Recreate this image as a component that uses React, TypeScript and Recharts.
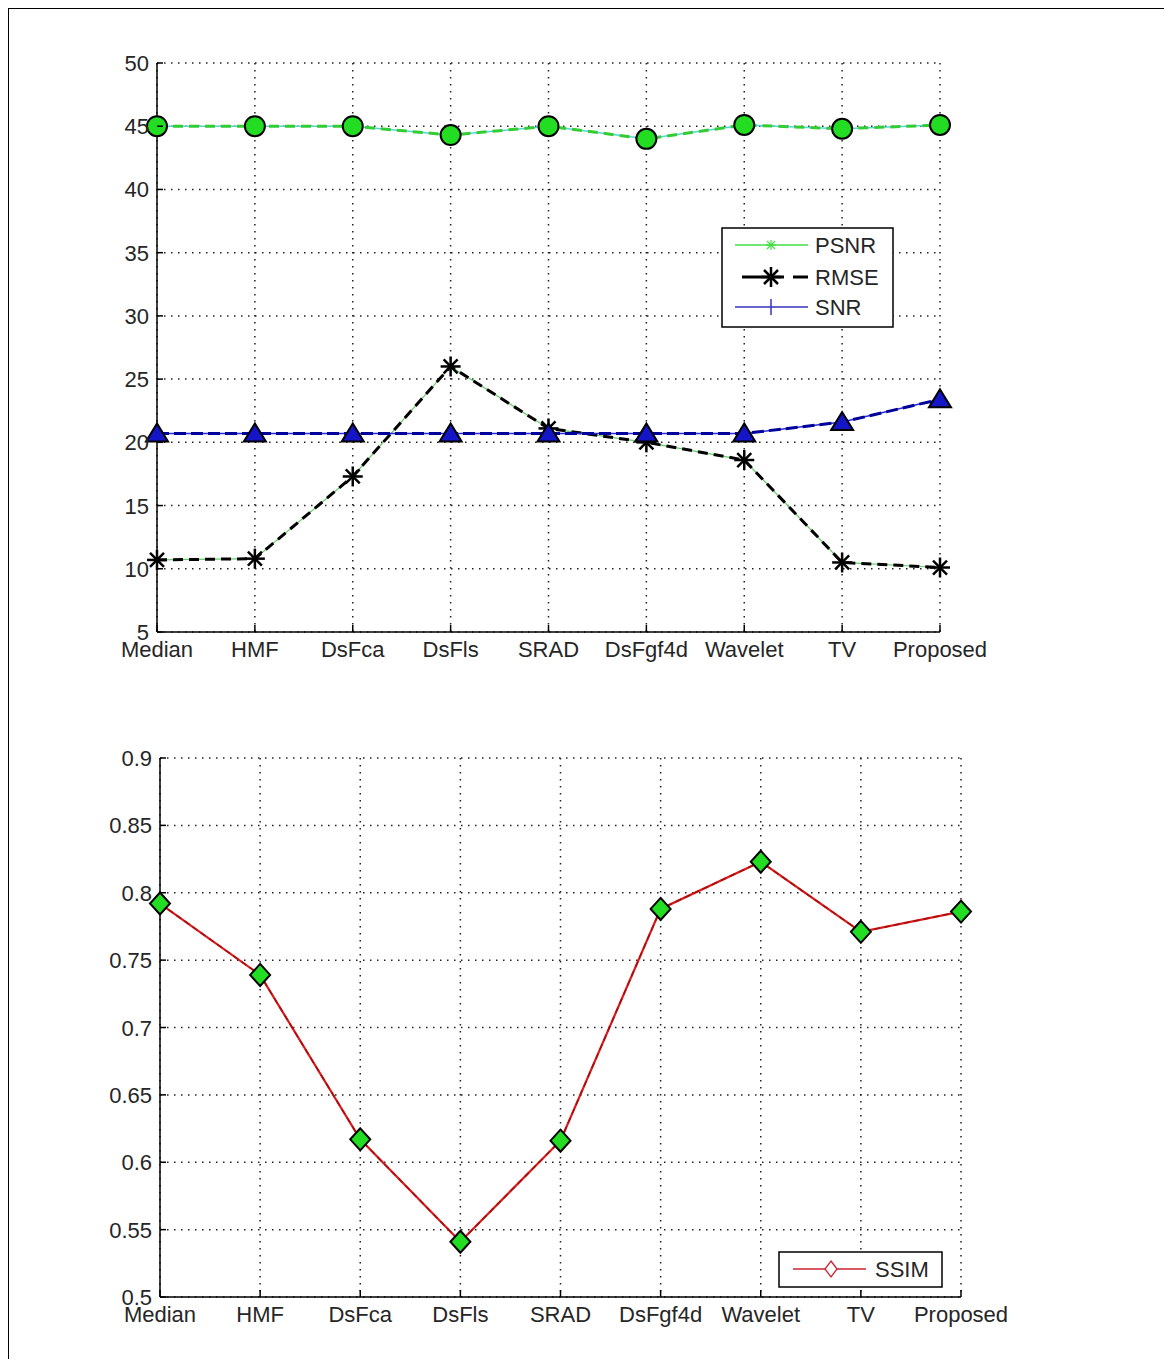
import React from 'react';
import { LineChart, Line, XAxis, YAxis, CartesianGrid, Legend } from 'recharts';

const methods = ['Median', 'HMF', 'DsFca', 'DsFls', 'SRAD', 'DsFgf4d', 'Wavelet', 'TV', 'Proposed'];
const psnr = [45.0, 45.0, 45.0, 44.3, 45.0, 44.0, 45.1, 44.8, 45.1];
const rmse = [10.7, 10.8, 17.3, 26.0, 21.1, 20.0, 18.6, 10.5, 10.1];
const snr = [20.7, 20.7, 20.7, 20.7, 20.7, 20.7, 20.7, 21.6, 23.4];
const ssim = [0.792, 0.739, 0.617, 0.541, 0.616, 0.788, 0.823, 0.771, 0.786];

const topTicks = [5, 10, 15, 20, 25, 30, 35, 40, 45, 50];
const bottomTicks = [0.5, 0.55, 0.6, 0.65, 0.7, 0.75, 0.8, 0.85, 0.9];

const topData = methods.map((m, i) => ({ name: m, psnr: psnr[i], rmse: rmse[i], snr: snr[i] }));
const bottomData = methods.map((m, i) => ({ name: m, ssim: ssim[i] }));

const FONT = '"Liberation Sans", Arial, sans-serif';
const TXT = '#262626';

const XTick = (props: any) => {
  const { x, y, payload } = props;
  return (
    <g>
      <line x1={x} y1={y} x2={x} y2={y - 7} stroke="#000" strokeWidth={1.5} />
      <text x={x} y={y + 25} textAnchor="middle" fontSize={22} fontFamily={FONT} fill={TXT}>
        {payload.value}
      </text>
    </g>
  );
};

const YTick = (props: any) => {
  const { x, y, payload } = props;
  return (
    <g>
      <line x1={x} y1={y} x2={x + 6} y2={y} stroke="#000" strokeWidth={1.5} />
      <text x={x - 8} y={y} dy={8} textAnchor="end" fontSize={22} fontFamily={FONT} fill={TXT}>
        {String(Number(payload.value.toFixed(2)))}
      </text>
    </g>
  );
};

const circleDot = (p: any) => (
  <circle key={'c' + p.index} cx={p.cx} cy={p.cy} r={10} fill="#22dd22" stroke="#000" strokeWidth={2} />
);

const starDot = (p: any) => {
  const { cx, cy } = p;
  const r = 10;
  const d = 7;
  return (
    <g key={'s' + p.index} stroke="#000" strokeWidth={2.5}>
      <line x1={cx - r} y1={cy} x2={cx + r} y2={cy} />
      <line x1={cx} y1={cy - r} x2={cx} y2={cy + r} />
      <line x1={cx - d} y1={cy - d} x2={cx + d} y2={cy + d} />
      <line x1={cx - d} y1={cy + d} x2={cx + d} y2={cy - d} />
    </g>
  );
};

const triDot = (p: any) => (
  <polygon
    key={'t' + p.index}
    points={`${p.cx},${p.cy - 10} ${p.cx - 11},${p.cy + 8} ${p.cx + 11},${p.cy + 8}`}
    fill="#1515c8"
    stroke="#000"
    strokeWidth={2}
  />
);

const diamondDot = (p: any) => (
  <polygon
    key={'d' + p.index}
    points={`${p.cx},${p.cy - 11} ${p.cx + 10},${p.cy} ${p.cx},${p.cy + 11} ${p.cx - 10},${p.cy}`}
    fill="#22dd22"
    stroke="#000"
    strokeWidth={2}
  />
);

const TopLegend = () => (
  <svg width={173} height={101} style={{ display: 'block' }}>
    <rect x={1} y={1} width={171} height={99} fill="#fff" stroke="#000" strokeWidth={1.5} />
    <line x1={14} y1={18} x2={87} y2={18} stroke="#44dd44" strokeWidth={1.5} />
    <g stroke="#44dd44" strokeWidth={1.2}>
      <line x1={45} y1={18} x2={55} y2={18} />
      <line x1={50} y1={13} x2={50} y2={23} />
      <line x1={46} y1={14} x2={54} y2={22} />
      <line x1={46} y1={22} x2={54} y2={14} />
    </g>
    <text x={94} y={26} fontSize={22} fontFamily={FONT} fill={TXT}>PSNR</text>
    <line x1={21} y1={50} x2={63} y2={50} stroke="#000" strokeWidth={3} />
    <line x1={72} y1={50} x2={87} y2={50} stroke="#000" strokeWidth={3} />
    <g stroke="#000" strokeWidth={2.5}>
      <line x1={40} y1={50} x2={60} y2={50} />
      <line x1={50} y1={40} x2={50} y2={60} />
      <line x1={43} y1={43} x2={57} y2={57} />
      <line x1={43} y1={57} x2={57} y2={43} />
    </g>
    <text x={94} y={58} fontSize={22} fontFamily={FONT} fill={TXT}>RMSE</text>
    <line x1={14} y1={80} x2={87} y2={80} stroke="#3333bb" strokeWidth={1.5} />
    <line x1={50} y1={72} x2={50} y2={88} stroke="#3333bb" strokeWidth={1.5} />
    <text x={94} y={88} fontSize={22} fontFamily={FONT} fill={TXT}>SNR</text>
  </svg>
);

const BottomLegend = () => (
  <svg width={165} height={37} style={{ display: 'block' }}>
    <rect x={1} y={1} width={163} height={35} fill="#fff" stroke="#000" strokeWidth={1.5} />
    <line x1={15} y1={18} x2={88} y2={18} stroke="#cc2233" strokeWidth={1.5} />
    <polygon points="53,10 59,18 53,26 47,18" fill="#fff" stroke="#cc2233" strokeWidth={1.3} />
    <text x={97} y={26} fontSize={22} fontFamily={FONT} fill={TXT}>SSIM</text>
  </svg>
);

const App = () => {
  return (
    <div
      style={{
        position: 'relative',
        margin: '-2px 0 0 -2px',
        width: 1155,
        height: 1350,
        borderLeft: '3px solid #000',
        borderTop: '3px solid #000',
        background: '#fff',
        fontFamily: FONT,
      }}
    >
      <div style={{ position: 'absolute', left: 51, top: 21 }}>
        <LineChart width={1000} height={652} data={topData} margin={{ top: 33, right: 120, bottom: 10, left: 47 }}>
          <CartesianGrid stroke="#222" strokeDasharray="1.5 5.5" strokeWidth={1.5} />
          <XAxis
            dataKey="name"
            interval={0}
            height={40}
            tickSize={0}
            tickMargin={0}
            tick={XTick}
            axisLine={{ stroke: '#000', strokeWidth: 1.5 }}
            tickLine={false}
          />
          <YAxis
            domain={[5, 50]}
            ticks={topTicks}
            width={50}
            tickSize={0}
            tickMargin={0}
            tick={YTick}
            axisLine={{ stroke: '#000', strokeWidth: 1.5 }}
            tickLine={false}
          />
          <Legend
            layout="vertical"
            align="center"
            verticalAlign="middle"
            wrapperStyle={{ left: 661, top: 197, width: 173, height: 101 }}
            content={TopLegend}
          />
          <Line dataKey="psnr" stroke="#55d6d6" strokeWidth={1.5} dot={false} activeDot={false} isAnimationActive={false} />
          <Line dataKey="psnr" stroke="#33cc33" strokeWidth={3} strokeDasharray="10 6" dot={circleDot} activeDot={false} isAnimationActive={false} />
          <Line dataKey="rmse" stroke="#66cc66" strokeWidth={1.2} dot={false} activeDot={false} isAnimationActive={false} />
          <Line dataKey="rmse" stroke="#000" strokeWidth={3} strokeDasharray="10 6" dot={starDot} activeDot={false} isAnimationActive={false} />
          <Line dataKey="snr" stroke="#2a2ad8" strokeWidth={1.5} dot={false} activeDot={false} isAnimationActive={false} />
          <Line dataKey="snr" stroke="#00009a" strokeWidth={3} strokeDasharray="12 5" dot={triDot} activeDot={false} isAnimationActive={false} />
        </LineChart>
      </div>
      <div style={{ position: 'absolute', left: 51, top: 711 }}>
        <LineChart width={1000} height={627} data={bottomData} margin={{ top: 38, right: 99, bottom: 10, left: 50 }}>
          <CartesianGrid stroke="#222" strokeDasharray="1.5 5.5" strokeWidth={1.5} />
          <XAxis
            dataKey="name"
            interval={0}
            height={40}
            tickSize={0}
            tickMargin={0}
            tick={XTick}
            axisLine={{ stroke: '#000', strokeWidth: 1.5 }}
            tickLine={false}
          />
          <YAxis
            domain={[0.5, 0.9]}
            ticks={bottomTicks}
            width={50}
            tickSize={0}
            tickMargin={0}
            tick={YTick}
            axisLine={{ stroke: '#000', strokeWidth: 1.5 }}
            tickLine={false}
          />
          <Legend
            layout="vertical"
            align="center"
            verticalAlign="middle"
            wrapperStyle={{ left: 718, top: 531, width: 165, height: 37 }}
            content={BottomLegend}
          />
          <Line dataKey="ssim" stroke="#dd1a1a" strokeWidth={2.2} dot={false} activeDot={false} isAnimationActive={false} />
          <Line dataKey="ssim" stroke="#a31010" strokeWidth={1.5} strokeDasharray="6 4" dot={diamondDot} activeDot={false} isAnimationActive={false} />
        </LineChart>
      </div>
    </div>
  );
};

export default App;
